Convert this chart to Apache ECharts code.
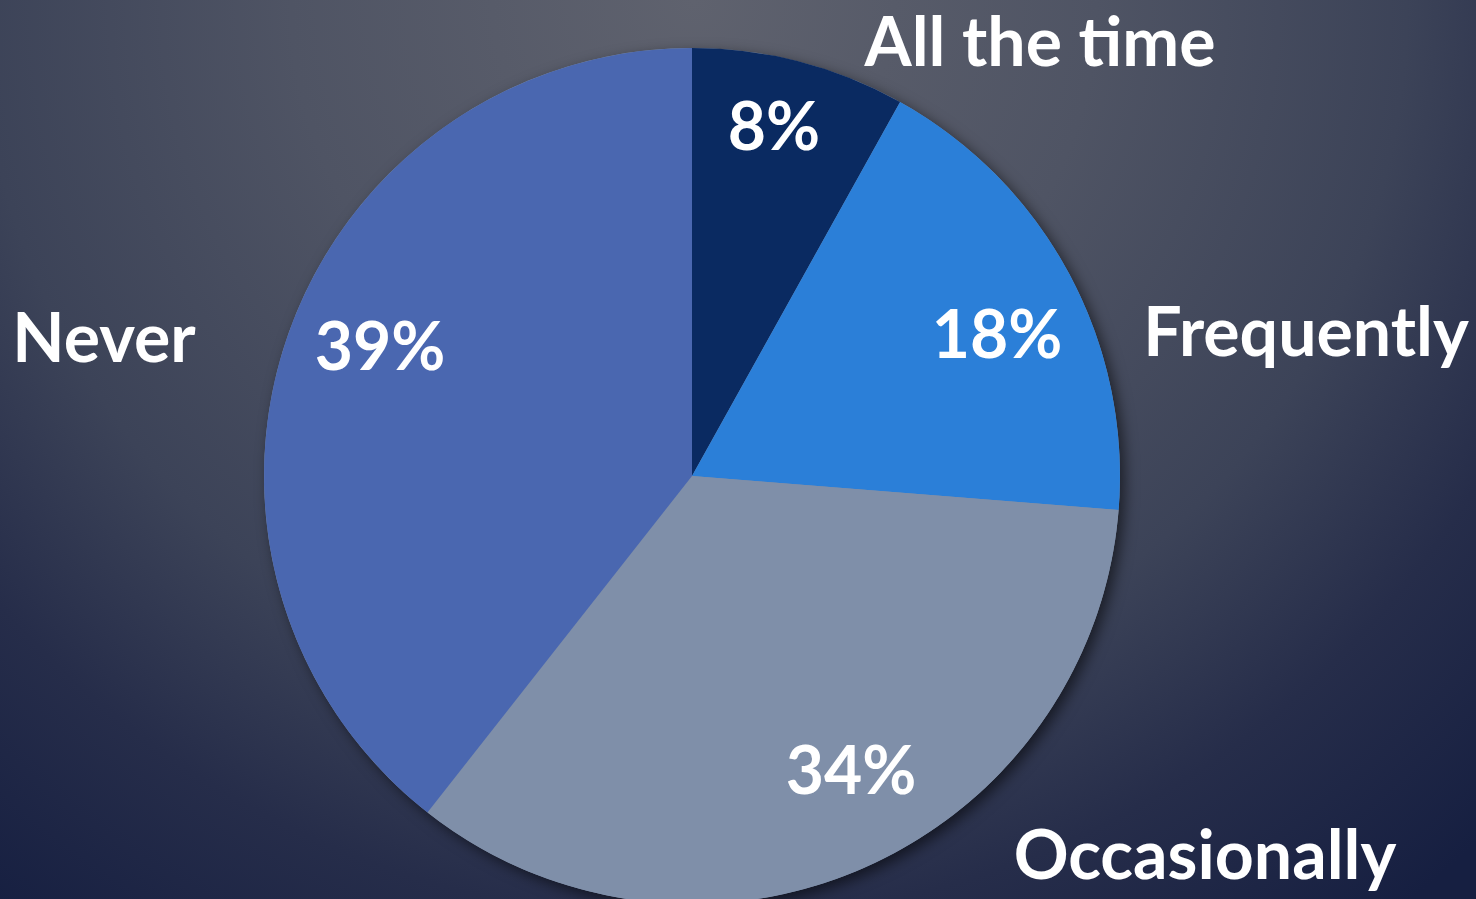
<!DOCTYPE html>
<html>
<head>
<meta charset="utf-8">
<script src="https://cdn.jsdelivr.net/npm/echarts@6/dist/echarts.min.js"></script>
<style>
html,body{margin:0;padding:0;width:1476px;height:899px;overflow:hidden;}
#chart{width:1476px;height:899px;}
</style>
</head>
<body>
<div id="chart"></div>
<script>
const categories = ['All the time', 'Frequently', 'Occasionally', 'Never'];
const values = [8, 18, 34, 39];
const sliceColors = ['#0a2a61', '#2b7fd8', '#7f8fa9', '#4a67b0'];

// label anchor points (pixel centres) for category names and value labels
const namePositions = [[1040, 44], [1306, 334], [1205, 857], [104, 340]];
const valuePositions = [[774, 129], [997, 337], [851, 773], [380, 349]];

const CX = 692, CY = 476, R = 428;
const FONT = 'Lato, "Open Sans", sans-serif';

const chart = echarts.init(document.getElementById('chart'), null, {renderer: 'canvas'});

const pieData = categories.map((c, i) => ({
  name: c,
  value: values[i],
  itemStyle: {color: sliceColors[i]}
}));

chart.setOption({
  backgroundColor: {
    type: 'radial', x: 0.47, y: 0, r: 1.28,
    colorStops: [
      {offset: 0, color: '#5f626e'},
      {offset: 0.35, color: '#4f5464'},
      {offset: 0.62, color: '#3c4358'},
      {offset: 0.8, color: '#262d4a'},
      {offset: 1, color: '#161f41'}
    ]
  },
  animation: false,
  series: [
    {
      type: 'pie',
      center: [CX, CY],
      radius: [0, R],
      silent: true,
      z: 1,
      data: [{value: 1, name: '', itemStyle: {color: '#7f8fa9'}}],
      label: {show: false},
      labelLine: {show: false},
      itemStyle: {
        shadowColor: 'rgba(0,0,0,0.55)',
        shadowBlur: 14,
        shadowOffsetX: 5,
        shadowOffsetY: 5
      }
    },
    {
      type: 'pie',
      center: [CX, CY],
      radius: [0, R],
      startAngle: 90,
      clockwise: true,
      z: 2,
      avoidLabelOverlap: false,
      data: pieData,
      itemStyle: {borderWidth: 0},
      label: {
        show: true,
        position: 'outside',
        formatter: '{b}',
        color: '#ffffff',
        fontFamily: FONT,
        fontWeight: 'bold',
        fontSize: 68
      },
      labelLine: {show: false},
      labelLayout: function (params) {
        const p = namePositions[params.dataIndex];
        return {x: p[0], y: p[1], align: 'center', verticalAlign: 'middle'};
      },
      emphasis: {disabled: true}
    },
    {
      type: 'pie',
      center: [CX, CY],
      radius: [258, R],
      startAngle: 90,
      clockwise: true,
      z: 3,
      silent: true,
      avoidLabelOverlap: false,
      data: categories.map((c, i) => ({name: c, value: values[i]})),
      itemStyle: {color: 'rgba(0,0,0,0)', borderWidth: 0},
      label: {
        show: true,
        position: 'inside',
        formatter: '{c}%',
        color: '#ffffff',
        fontFamily: FONT,
        fontWeight: 'bold',
        fontSize: 66
      },
      labelLine: {show: false},
      labelLayout: function (params) {
        const p = valuePositions[params.dataIndex];
        return {x: p[0], y: p[1], align: 'center', verticalAlign: 'middle'};
      },
      emphasis: {disabled: true}
    }
  ]
});
</script>
</body>
</html>
